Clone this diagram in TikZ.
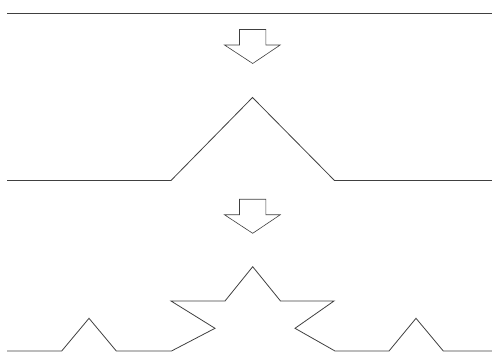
\documentclass[tikz,border=0pt]{standalone}
\usetikzlibrary{positioning}

\tikzset{
  curve/.style={draw=black!75, line width=0.8pt, line join=miter},
  hollowarrow/.pic={
    \draw [draw=black!75, line width=0.6pt, fill=white]
      (-13.2,0) -- (13.2,0) -- (13.2,15.5) -- (27.5,15.5) -- (0,34)
      -- (-28.2,15.5) -- (-13.2,15.5) -- cycle;
  }
}

\begin{document}
\begin{tikzpicture}[x=1pt, y=-1pt]

  \useasboundingbox (0,0) rectangle (492,352);

  % step 0
  \draw [curve] (7,13) -- (492,13);

  \pic at (252.7,29.5) {hollowarrow};

  % step 1
  \draw [curve] (7,180.5) -- (171,180.5) -- (252.5,97.5) -- (334.5,180.5) -- (492,180.5);

  \pic at (252.7,199.3) {hollowarrow};

  % step 2
  \draw [curve] (7,351) -- (61.7,351) -- (89,318.3) -- (116.3,351) -- (171.5,351)
    -- (215,328.3) -- (171,301) -- (225,301) -- (252.7,266.7)
    -- (280.5,301) -- (334,301) -- (295,328.3) -- (335,351)
    -- (389,351) -- (416,318.3) -- (443.3,351) -- (492,351);

\end{tikzpicture}
\end{document}
